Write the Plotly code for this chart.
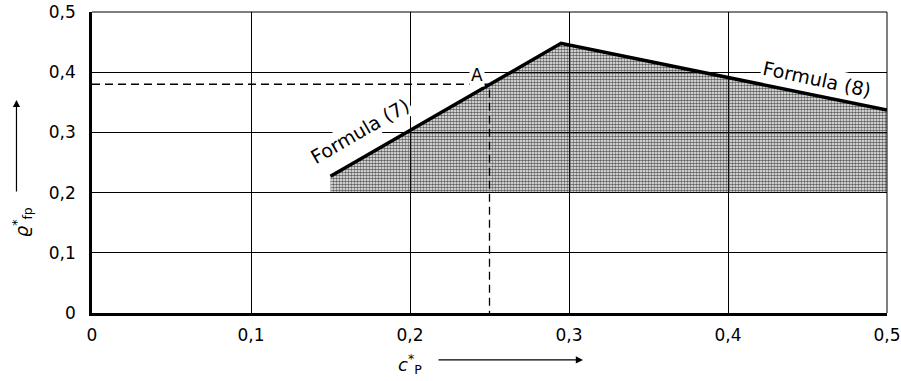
import plotly.graph_objects as go

# Boundary lines of the permissible region
cp_f7 = [0.15, 0.295]
rho_f7 = [0.227, 0.448]
cp_f8 = [0.295, 0.5]
rho_f8 = [0.448, 0.337]
rho_floor = 0.2

# Example point A
cp_a = 0.25
rho_a = 0.38

tick_vals = [0, 0.1, 0.2, 0.3, 0.4, 0.5]
tick_text = ["0", "0,1", "0,2", "0,3", "0,4", "0,5"]

FONT = "DejaVu Sans"

fig = go.Figure()

# Shaded region between the floor and the two formula lines
poly_x = cp_f7 + cp_f8[1:] + [cp_f8[-1], cp_f7[0]]
poly_y = rho_f7 + rho_f8[1:] + [rho_floor, rho_floor]
fig.add_trace(go.Scatter(
    x=poly_x, y=poly_y, mode="none", fill="toself",
    fillcolor="rgba(0,0,0,0)",
    fillpattern=dict(shape=".", size=3, solidity=0.6,
                     fgcolor="#222222", bgcolor="rgba(0,0,0,0)", fgopacity=0.72),
    hoverinfo="skip", showlegend=False))

# Dashed projection lines through A
fig.add_trace(go.Scatter(
    x=[0, cp_a, cp_a], y=[rho_a, rho_a, 0], mode="lines",
    line=dict(color="black", width=1.3, dash="8px,5px"),
    hoverinfo="skip", showlegend=False))

# Formula lines
fig.add_trace(go.Scatter(
    x=cp_f7 + cp_f8[1:], y=rho_f7 + rho_f8[1:], mode="lines",
    line=dict(color="black", width=3.5),
    hoverinfo="skip", showlegend=False))

axis_common = dict(
    range=[0, 0.5], tickvals=tick_vals, ticktext=tick_text,
    showgrid=True, gridcolor="black", gridwidth=1, automargin=False,
    zeroline=False, ticks="", showline=True, linecolor="black", linewidth=2.5,
    tickfont=dict(family=FONT, size=17, color="black"),
)
fig.update_xaxes(**axis_common, ticklabelstandoff=5)
fig.update_yaxes(**axis_common, ticklabelstandoff=10)

# Thin top and right frame edges
fig.add_shape(type="line", xref="x domain", yref="y domain",
              x0=0, x1=1, y0=1, y1=1, line=dict(color="black", width=1))
fig.add_shape(type="line", xref="x domain", yref="y domain",
              x0=1, x1=1, y0=0, y1=1, line=dict(color="black", width=1))

annotations = [
    dict(x=cp_a - 0.008, y=rho_a + 0.015, xref="x", yref="y", text="A",
         showarrow=False, bgcolor="white",
         font=dict(family=FONT, size=17, color="black")),
    dict(x=0.1685, y=0.302, xref="x", yref="y", text="Formula (7)",
         textangle=-30, showarrow=False, bgcolor="white",
         font=dict(family=FONT, size=19, color="black")),
    dict(x=0.456, y=0.388, xref="x", yref="y", text="Formula (8)",
         textangle=12, showarrow=False, bgcolor="white",
         font=dict(family=FONT, size=19, color="black")),
    # axis titles
    dict(x=-0.088, y=0.245, xref="paper", yref="paper", xanchor="center",
         text="<i>ϱ</i><sup>*</sup><sub>fp</sub>", textangle=-90, showarrow=False,
         font=dict(family=FONT, size=18, color="black")),
    dict(x=0.4, y=-0.17, xref="paper", yref="paper", yanchor="middle",
         text="<i>c</i><sup>*</sup><sub>P</sub>", showarrow=False,
         font=dict(family=FONT, size=18, color="black")),
    # arrows next to axis titles
    dict(x=-0.095, y=0.708, xref="paper", yref="paper", ax=0, ay=93,
         text="", showarrow=True, arrowhead=2, arrowsize=1.2, arrowwidth=1.2,
         arrowcolor="black"),
    dict(x=0.6176, y=-0.156, xref="paper", yref="paper", ax=-146, ay=0,
         text="", showarrow=True, arrowhead=2, arrowsize=1.2, arrowwidth=1.2,
         arrowcolor="black"),
]
fig.update_layout(
    width=901, height=381,
    margin=dict(l=92, r=14, t=12, b=68),
    plot_bgcolor="white", paper_bgcolor="white",
    annotations=annotations,
    font=dict(family=FONT, color="black"),
)

fig.write_html("out.html")
